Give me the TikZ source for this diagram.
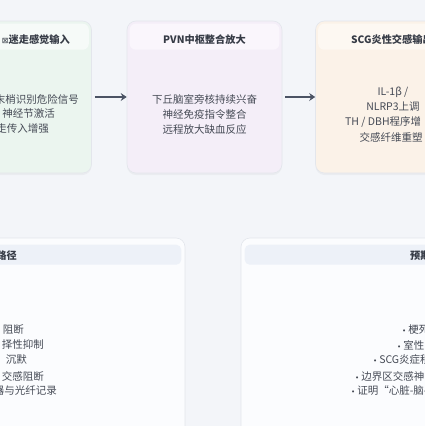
\documentclass[tikz,border=0pt]{standalone}
\usepackage{fontspec}
\setmainfont{Noto Sans CJK SC}
\newfontfamily\symfont{DejaVu Sans}
\usetikzlibrary{arrows.meta,shadows}

\definecolor{bgc}{HTML}{F3F5F9}
\definecolor{vagfill}{HTML}{EBF5EF}
\definecolor{vaghead}{HTML}{F6FAF8}
\definecolor{pvnfill}{HTML}{F4EEF8}
\definecolor{pvnhead}{HTML}{FAF6FC}
\definecolor{scgfill}{HTML}{FBF2E8}
\definecolor{scghead}{HTML}{FDF8F2}
\definecolor{lowfill}{HTML}{FBFCFE}
\definecolor{lowhead}{HTML}{EDF1F8}
\definecolor{edgec}{HTML}{E3E6EC}
\definecolor{arrowc}{HTML}{4B5364}
\definecolor{txtc}{HTML}{454A55}
\definecolor{headc}{HTML}{363B46}

\newcommand{\dotmark}{{\symfont\fontsize{7}{7}\selectfont •}\hspace{2pt}}

\begin{document}
\begin{tikzpicture}[x=1pt,y=-1pt,
  card/.style={draw=edgec, line width=0.6pt, rounded corners=9pt,
    drop shadow={opacity=0.07, shadow xshift=0pt, shadow yshift=-2pt}},
  topcard/.style={card, minimum width=155pt, minimum height=152pt},
  lowcard/.style={card, fill=lowfill, minimum width=300pt, minimum height=260pt},
  headtxt/.style={text=headc, font=\fontsize{10.2}{13}\selectfont\bfseries, inner sep=0pt},
  bodytxt/.style={text=txtc, font=\fontsize{10.5}{15}\selectfont, inner sep=0pt, align=center},
  flow/.style={draw=arrowc, line width=2pt, -{Stealth[length=6pt,width=8pt]}, shorten <=3pt}]

  % background and frame
  \useasboundingbox (0,0) rectangle (425,426);
  \fill[bgc] (0,0) rectangle (425,426);
  \clip (0,0) rectangle (425,426);

  % the three stages in the top row
  \node[topcard, fill=vagfill] (vagus) at (14,97) {};
  \node[topcard, fill=pvnfill] (pvn) at (204.5,97) {};
  \node[topcard, fill=scgfill] (scg) at (393,97) {};

  \fill[vaghead, rounded corners=6pt] ([xshift=3pt,yshift=-3pt]vagus.north west) rectangle ([xshift=-3pt,yshift=-29pt]vagus.north east);
  \fill[pvnhead, rounded corners=6pt] ([xshift=3pt,yshift=-3pt]pvn.north west) rectangle ([xshift=-3pt,yshift=-29pt]pvn.north east);
  \fill[scghead, rounded corners=6pt] ([xshift=3pt,yshift=-3pt]scg.north west) rectangle ([xshift=-3pt,yshift=-29pt]scg.north east);

  % headers
  \node[headtxt, anchor=east] (vagushead) at (70,40) {{\symfont\mdseries\fontsize{8}{8}\selectfont ⊠}迷走感觉输入};
  \node[headtxt] (pvnhead) at (204.5,40) {PVN中枢整合放大};
  \node[headtxt, anchor=west] (scghead) at (351,40) {SCG炎性交感输出};

  % vagal input, cut at the left edge
  \node[bodytxt, anchor=east] (vagus1) at (79,99) {末梢识别危险信号};
  \node[bodytxt, anchor=east] (vagus2) at (55,114) {神经节激活};
  \node[bodytxt, anchor=east] (vagus3) at (49,129) {走传入增强};

  % central integration
  \node[bodytxt] (pvntext) at (204.5,114) {下丘脑室旁核持续兴奋\\神经免疫指令整合\\远程放大缺血反应};

  % sympathetic output, cut at the right edge
  \node[bodytxt] (scg1) at (393,92) {IL-1β /};
  \node[bodytxt] (scg2) at (393,107) {NLRP3上调};
  \node[bodytxt, anchor=west] (scg3) at (345,122) {TH / DBH程序增};
  \node[bodytxt] (scg4) at (391,137) {交感纤维重塑};

  % arrows between the stages
  \draw[flow] (vagus) -- (pvn);
  \draw[flow] (pvn) -- (scg);

  % the two lower panels
  \node[lowcard] (method) at (35,368) {};
  \node[lowcard] (expect) at (391,368) {};
  \fill[lowhead, rounded corners=5pt] ([xshift=4pt,yshift=-7pt]method.north west) rectangle ([xshift=-4pt,yshift=-27pt]method.north east);
  \fill[lowhead, rounded corners=5pt] ([xshift=4pt,yshift=-7pt]expect.north west) rectangle ([xshift=-4pt,yshift=-27pt]expect.north east);

  \node[headtxt, anchor=east] (methodhead) at (17,256) {路径};
  \node[headtxt, anchor=west] (expecthead) at (410,256) {预期};

  % left panel lines
  \node[bodytxt, anchor=east] (meth1) at (24,330) {阻断};
  \node[bodytxt, anchor=east] (meth2) at (44,345) {择性抑制};
  \node[bodytxt, anchor=east] (meth3) at (27,360) {沉默};
  \node[bodytxt, anchor=east] (meth4) at (44,376) {交感阻断};
  \node[bodytxt, anchor=east] (meth5) at (57,391) {器与光纤记录};

  % right panel lines
  \node[bodytxt, anchor=west] (exp1) at (402,330) {\dotmark 梗死};
  \node[bodytxt, anchor=west] (exp2) at (397,345) {\dotmark 室性};
  \node[bodytxt, anchor=west] (exp3) at (373,360) {\dotmark SCG炎症程};
  \node[bodytxt, anchor=west] (exp4) at (355,376) {\dotmark 边界区交感神};
  \node[bodytxt, anchor=west] (exp5) at (351,391) {\dotmark 证明“心脏-脑-};
\end{tikzpicture}
\end{document}
